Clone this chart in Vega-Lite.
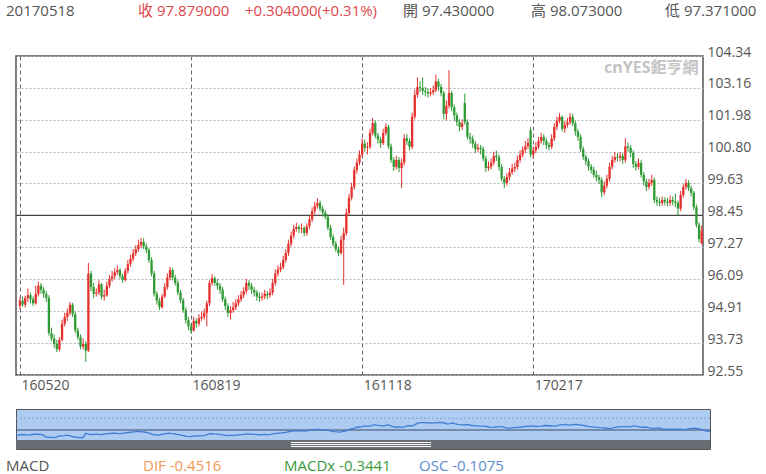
{
"$schema":"https://vega.github.io/schema/vega-lite/v6.json",
"background":"white",
"padding":{"left":5,"top":0,"right":0,"bottom":0},
"bounds":"flush",
"spacing":34,
"resolve":{"scale":{"color":"independent"}},
"config":{"font":"'Open Sans', 'Noto Sans CJK TC'","view":{"stroke":null}},
"datasets":{"k":[
{"i":0,"o":95.10,"h":95.42,"l":94.98,"c":95.30},
{"i":1,"o":95.30,"h":95.45,"l":95.07,"c":95.15},
{"i":2,"o":95.15,"h":95.48,"l":95.05,"c":95.40},
{"i":3,"o":95.40,"h":95.75,"l":95.25,"c":95.50},
{"i":4,"o":95.50,"h":95.60,"l":95.20,"c":95.35},
{"i":5,"o":95.35,"h":95.45,"l":95.10,"c":95.20},
{"i":6,"o":95.20,"h":95.85,"l":95.15,"c":95.55},
{"i":7,"o":95.55,"h":96.00,"l":95.45,"c":95.85},
{"i":8,"o":95.85,"h":95.95,"l":95.55,"c":95.70},
{"i":9,"o":95.70,"h":95.80,"l":95.40,"c":95.55},
{"i":10,"o":95.55,"h":95.65,"l":95.25,"c":95.40},
{"i":11,"o":95.40,"h":95.50,"l":94.00,"c":94.10},
{"i":12,"o":94.10,"h":94.30,"l":93.80,"c":93.90},
{"i":13,"o":93.90,"h":94.05,"l":93.55,"c":93.70},
{"i":14,"o":93.70,"h":93.85,"l":93.40,"c":93.50},
{"i":15,"o":93.50,"h":93.95,"l":93.42,"c":93.85},
{"i":16,"o":93.85,"h":94.60,"l":93.80,"c":94.45},
{"i":17,"o":94.45,"h":94.85,"l":94.35,"c":94.70},
{"i":18,"o":94.70,"h":95.00,"l":94.55,"c":94.85},
{"i":19,"o":94.85,"h":95.25,"l":94.75,"c":95.15},
{"i":20,"o":95.15,"h":95.22,"l":94.70,"c":94.80},
{"i":21,"o":94.80,"h":94.90,"l":94.10,"c":94.20},
{"i":22,"o":94.20,"h":94.30,"l":93.85,"c":93.95},
{"i":23,"o":93.95,"h":94.05,"l":93.50,"c":93.60},
{"i":24,"o":93.60,"h":93.90,"l":93.50,"c":93.70},
{"i":25,"o":93.70,"h":93.80,"l":93.03,"c":93.45},
{"i":26,"o":93.45,"h":96.69,"l":93.40,"c":96.30},
{"i":27,"o":96.30,"h":96.40,"l":95.65,"c":95.80},
{"i":28,"o":95.80,"h":95.95,"l":95.40,"c":95.55},
{"i":29,"o":95.55,"h":95.75,"l":95.45,"c":95.60},
{"i":30,"o":95.60,"h":96.05,"l":95.50,"c":95.90},
{"i":31,"o":95.90,"h":95.95,"l":95.35,"c":95.45},
{"i":32,"o":95.45,"h":95.70,"l":95.30,"c":95.50},
{"i":33,"o":95.50,"h":96.00,"l":95.45,"c":95.85},
{"i":34,"o":95.85,"h":96.25,"l":95.75,"c":96.10},
{"i":35,"o":96.10,"h":96.40,"l":96.00,"c":96.20},
{"i":36,"o":96.20,"h":96.50,"l":96.10,"c":96.35},
{"i":37,"o":96.35,"h":96.60,"l":96.25,"c":96.43},
{"i":38,"o":96.43,"h":96.50,"l":96.10,"c":96.20},
{"i":39,"o":96.20,"h":96.30,"l":95.95,"c":96.06},
{"i":40,"o":96.06,"h":96.50,"l":96.00,"c":96.40},
{"i":41,"o":96.40,"h":96.80,"l":96.30,"c":96.65},
{"i":42,"o":96.65,"h":97.00,"l":96.55,"c":96.85},
{"i":43,"o":96.85,"h":97.20,"l":96.75,"c":97.05},
{"i":44,"o":97.05,"h":97.35,"l":96.95,"c":97.20},
{"i":45,"o":97.20,"h":97.55,"l":97.10,"c":97.35},
{"i":46,"o":97.35,"h":97.62,"l":97.25,"c":97.47},
{"i":47,"o":97.47,"h":97.60,"l":97.20,"c":97.30},
{"i":48,"o":97.30,"h":97.40,"l":97.05,"c":97.17},
{"i":49,"o":97.17,"h":97.25,"l":96.70,"c":96.80},
{"i":50,"o":96.80,"h":96.90,"l":96.20,"c":96.30},
{"i":51,"o":96.30,"h":96.40,"l":95.45,"c":95.55},
{"i":52,"o":95.55,"h":95.65,"l":95.15,"c":95.30},
{"i":53,"o":95.30,"h":95.40,"l":94.95,"c":95.06},
{"i":54,"o":95.06,"h":95.55,"l":95.00,"c":95.45},
{"i":55,"o":95.45,"h":95.95,"l":95.40,"c":95.80},
{"i":56,"o":95.80,"h":96.30,"l":95.70,"c":96.15},
{"i":57,"o":96.15,"h":96.55,"l":96.05,"c":96.43},
{"i":58,"o":96.43,"h":96.50,"l":96.05,"c":96.15},
{"i":59,"o":96.15,"h":96.25,"l":95.85,"c":95.95},
{"i":60,"o":95.95,"h":96.05,"l":95.50,"c":95.60},
{"i":61,"o":95.60,"h":95.70,"l":95.20,"c":95.32},
{"i":62,"o":95.32,"h":95.40,"l":94.85,"c":94.95},
{"i":63,"o":94.95,"h":95.05,"l":94.45,"c":94.58},
{"i":64,"o":94.58,"h":94.70,"l":94.20,"c":94.35},
{"i":65,"o":94.35,"h":94.45,"l":94.08,"c":94.20},
{"i":66,"o":94.20,"h":94.70,"l":94.15,"c":94.55},
{"i":67,"o":94.55,"h":94.65,"l":94.30,"c":94.45},
{"i":68,"o":94.45,"h":94.80,"l":94.35,"c":94.65},
{"i":69,"o":94.65,"h":94.90,"l":94.55,"c":94.70},
{"i":70,"o":94.70,"h":95.00,"l":94.60,"c":94.85},
{"i":71,"o":94.85,"h":95.30,"l":94.35,"c":95.20},
{"i":72,"o":95.20,"h":96.05,"l":95.10,"c":95.95},
{"i":73,"o":95.95,"h":96.28,"l":95.85,"c":96.13},
{"i":74,"o":96.13,"h":96.20,"l":95.85,"c":95.95},
{"i":75,"o":95.95,"h":96.10,"l":95.70,"c":95.85},
{"i":76,"o":95.85,"h":95.95,"l":95.55,"c":95.70},
{"i":77,"o":95.70,"h":95.80,"l":95.25,"c":95.35},
{"i":78,"o":95.35,"h":95.45,"l":94.95,"c":95.10},
{"i":79,"o":95.10,"h":95.20,"l":94.70,"c":94.84},
{"i":80,"o":94.84,"h":95.10,"l":94.60,"c":94.95},
{"i":81,"o":94.95,"h":95.25,"l":94.85,"c":95.05},
{"i":82,"o":95.05,"h":95.35,"l":94.95,"c":95.20},
{"i":83,"o":95.20,"h":95.50,"l":95.10,"c":95.35},
{"i":84,"o":95.35,"h":95.65,"l":95.25,"c":95.50},
{"i":85,"o":95.50,"h":95.80,"l":95.40,"c":95.65},
{"i":86,"o":95.65,"h":96.10,"l":95.55,"c":95.95},
{"i":87,"o":95.95,"h":96.05,"l":95.70,"c":95.85},
{"i":88,"o":95.85,"h":95.95,"l":95.55,"c":95.70},
{"i":89,"o":95.70,"h":95.80,"l":95.45,"c":95.60},
{"i":90,"o":95.60,"h":95.70,"l":95.30,"c":95.45},
{"i":91,"o":95.45,"h":95.60,"l":95.25,"c":95.40},
{"i":92,"o":95.40,"h":95.60,"l":95.30,"c":95.45},
{"i":93,"o":95.45,"h":95.70,"l":95.35,"c":95.55},
{"i":94,"o":95.55,"h":95.65,"l":95.35,"c":95.50},
{"i":95,"o":95.50,"h":95.75,"l":95.40,"c":95.60},
{"i":96,"o":95.60,"h":96.10,"l":95.50,"c":95.95},
{"i":97,"o":95.95,"h":96.45,"l":95.85,"c":96.30},
{"i":98,"o":96.30,"h":96.60,"l":96.20,"c":96.45},
{"i":99,"o":96.45,"h":96.70,"l":96.35,"c":96.54},
{"i":100,"o":96.54,"h":96.95,"l":96.45,"c":96.80},
{"i":101,"o":96.80,"h":97.20,"l":96.70,"c":97.06},
{"i":102,"o":97.06,"h":97.55,"l":96.95,"c":97.40},
{"i":103,"o":97.40,"h":97.85,"l":97.30,"c":97.70},
{"i":104,"o":97.70,"h":98.10,"l":97.60,"c":97.95},
{"i":105,"o":97.95,"h":98.18,"l":97.85,"c":98.02},
{"i":106,"o":98.02,"h":98.10,"l":97.80,"c":97.95},
{"i":107,"o":97.95,"h":98.15,"l":97.80,"c":97.98},
{"i":108,"o":97.98,"h":98.05,"l":97.68,"c":97.80},
{"i":109,"o":97.80,"h":98.15,"l":97.70,"c":98.05},
{"i":110,"o":98.05,"h":98.45,"l":97.95,"c":98.30},
{"i":111,"o":98.30,"h":98.75,"l":98.20,"c":98.60},
{"i":112,"o":98.60,"h":98.95,"l":98.50,"c":98.80},
{"i":113,"o":98.80,"h":99.09,"l":98.70,"c":98.91},
{"i":114,"o":98.91,"h":99.00,"l":98.60,"c":98.70},
{"i":115,"o":98.70,"h":98.80,"l":98.40,"c":98.55},
{"i":116,"o":98.55,"h":98.65,"l":98.30,"c":98.40},
{"i":117,"o":98.40,"h":98.50,"l":97.90,"c":98.00},
{"i":118,"o":98.00,"h":98.10,"l":97.55,"c":97.65},
{"i":119,"o":97.65,"h":97.75,"l":97.30,"c":97.40},
{"i":120,"o":97.40,"h":97.50,"l":97.10,"c":97.20},
{"i":121,"o":97.20,"h":97.30,"l":96.95,"c":97.06},
{"i":122,"o":97.06,"h":97.70,"l":97.00,"c":97.55},
{"i":123,"o":97.55,"h":98.00,"l":95.88,"c":97.80},
{"i":124,"o":97.80,"h":98.70,"l":97.70,"c":98.54},
{"i":125,"o":98.54,"h":99.25,"l":98.45,"c":99.10},
{"i":126,"o":99.10,"h":99.65,"l":99.00,"c":99.50},
{"i":127,"o":99.50,"h":100.25,"l":99.40,"c":100.13},
{"i":128,"o":100.13,"h":100.55,"l":100.00,"c":100.40},
{"i":129,"o":100.40,"h":100.85,"l":100.30,"c":100.70},
{"i":130,"o":100.70,"h":101.30,"l":100.60,"c":101.10},
{"i":131,"o":101.10,"h":101.25,"l":100.80,"c":100.95},
{"i":132,"o":100.95,"h":101.15,"l":100.70,"c":100.98},
{"i":133,"o":100.98,"h":101.65,"l":100.90,"c":101.50},
{"i":134,"o":101.50,"h":102.05,"l":101.40,"c":101.86},
{"i":135,"o":101.86,"h":101.95,"l":101.30,"c":101.40},
{"i":136,"o":101.40,"h":101.50,"l":101.10,"c":101.25},
{"i":137,"o":101.25,"h":101.35,"l":100.95,"c":101.12},
{"i":138,"o":101.12,"h":101.65,"l":101.05,"c":101.50},
{"i":139,"o":101.50,"h":101.85,"l":101.40,"c":101.72},
{"i":140,"o":101.72,"h":101.80,"l":100.90,"c":101.00},
{"i":141,"o":101.00,"h":101.10,"l":100.40,"c":100.50},
{"i":142,"o":100.50,"h":100.60,"l":100.10,"c":100.24},
{"i":143,"o":100.24,"h":100.65,"l":100.15,"c":100.50},
{"i":144,"o":100.50,"h":100.60,"l":100.05,"c":100.20},
{"i":145,"o":100.20,"h":100.55,"l":99.46,"c":100.40},
{"i":146,"o":100.40,"h":101.45,"l":100.30,"c":101.30},
{"i":147,"o":101.30,"h":101.45,"l":101.05,"c":101.20},
{"i":148,"o":101.20,"h":101.30,"l":100.85,"c":100.98},
{"i":149,"o":100.98,"h":102.25,"l":100.90,"c":102.10},
{"i":150,"o":102.10,"h":103.10,"l":102.00,"c":102.90},
{"i":151,"o":102.90,"h":103.55,"l":102.80,"c":103.19},
{"i":152,"o":103.19,"h":103.40,"l":103.00,"c":103.16},
{"i":153,"o":103.16,"h":103.55,"l":102.90,"c":103.05},
{"i":154,"o":103.05,"h":103.20,"l":102.85,"c":103.01},
{"i":155,"o":103.01,"h":103.15,"l":102.80,"c":102.95},
{"i":156,"o":102.95,"h":103.15,"l":102.85,"c":103.00},
{"i":157,"o":103.00,"h":103.25,"l":102.90,"c":103.08},
{"i":158,"o":103.08,"h":103.65,"l":103.00,"c":103.40},
{"i":159,"o":103.40,"h":103.50,"l":103.05,"c":103.20},
{"i":160,"o":103.20,"h":103.30,"l":102.85,"c":102.97},
{"i":161,"o":102.97,"h":103.05,"l":102.00,"c":102.20},
{"i":162,"o":102.20,"h":102.70,"l":101.95,"c":102.50},
{"i":163,"o":102.50,"h":103.82,"l":102.40,"c":102.97},
{"i":164,"o":102.97,"h":103.05,"l":102.30,"c":102.45},
{"i":165,"o":102.45,"h":102.55,"l":101.95,"c":102.15},
{"i":166,"o":102.15,"h":102.25,"l":101.75,"c":101.90},
{"i":167,"o":101.90,"h":102.00,"l":101.55,"c":101.72},
{"i":168,"o":101.72,"h":102.00,"l":101.60,"c":101.85},
{"i":169,"o":102.60,"h":102.95,"l":101.80,"c":101.90},
{"i":170,"o":101.90,"h":102.00,"l":101.25,"c":101.35},
{"i":171,"o":101.35,"h":101.50,"l":101.10,"c":101.28},
{"i":172,"o":101.28,"h":101.40,"l":100.95,"c":101.10},
{"i":173,"o":101.10,"h":101.20,"l":100.75,"c":100.90},
{"i":174,"o":100.90,"h":101.10,"l":100.80,"c":100.95},
{"i":175,"o":100.95,"h":101.05,"l":100.70,"c":100.90},
{"i":176,"o":100.90,"h":101.00,"l":100.45,"c":100.55},
{"i":177,"o":100.55,"h":100.65,"l":100.05,"c":100.20},
{"i":178,"o":100.20,"h":100.45,"l":100.10,"c":100.25},
{"i":179,"o":100.25,"h":100.55,"l":100.15,"c":100.40},
{"i":180,"o":100.40,"h":100.80,"l":100.30,"c":100.65},
{"i":181,"o":100.65,"h":100.85,"l":100.45,"c":100.60},
{"i":182,"o":100.60,"h":100.70,"l":100.10,"c":100.24},
{"i":183,"o":100.24,"h":100.35,"l":99.70,"c":99.80},
{"i":184,"o":99.80,"h":99.90,"l":99.46,"c":99.65},
{"i":185,"o":99.65,"h":100.00,"l":99.55,"c":99.87},
{"i":186,"o":99.87,"h":100.20,"l":99.75,"c":100.05},
{"i":187,"o":100.05,"h":100.35,"l":99.95,"c":100.18},
{"i":188,"o":100.18,"h":100.40,"l":100.05,"c":100.24},
{"i":189,"o":100.24,"h":100.65,"l":100.15,"c":100.50},
{"i":190,"o":100.50,"h":100.85,"l":100.40,"c":100.70},
{"i":191,"o":100.70,"h":101.00,"l":100.60,"c":100.87},
{"i":192,"o":100.87,"h":101.20,"l":100.75,"c":101.00},
{"i":193,"o":101.00,"h":101.30,"l":100.90,"c":101.12},
{"i":194,"o":101.60,"h":101.72,"l":100.60,"c":100.70},
{"i":195,"o":100.70,"h":101.00,"l":100.55,"c":100.85},
{"i":196,"o":100.85,"h":101.15,"l":100.75,"c":100.98},
{"i":197,"o":100.98,"h":101.35,"l":100.90,"c":101.20},
{"i":198,"o":101.20,"h":101.50,"l":101.10,"c":101.35},
{"i":199,"o":101.35,"h":101.45,"l":101.05,"c":101.20},
{"i":200,"o":101.20,"h":101.30,"l":100.90,"c":101.05},
{"i":201,"o":101.05,"h":101.15,"l":100.85,"c":100.98},
{"i":202,"o":100.98,"h":101.45,"l":100.90,"c":101.30},
{"i":203,"o":101.30,"h":101.85,"l":101.20,"c":101.72},
{"i":204,"o":101.72,"h":102.10,"l":101.60,"c":101.95},
{"i":205,"o":101.95,"h":102.23,"l":101.85,"c":102.09},
{"i":206,"o":102.09,"h":102.15,"l":101.55,"c":101.65},
{"i":207,"o":101.65,"h":101.95,"l":101.50,"c":101.80},
{"i":208,"o":101.80,"h":102.05,"l":101.70,"c":101.90},
{"i":209,"o":101.90,"h":102.23,"l":101.80,"c":102.09},
{"i":210,"o":102.09,"h":102.20,"l":101.75,"c":101.85},
{"i":211,"o":101.85,"h":101.95,"l":101.40,"c":101.55},
{"i":212,"o":101.55,"h":101.65,"l":101.20,"c":101.35},
{"i":213,"o":101.35,"h":101.45,"l":100.80,"c":100.90},
{"i":214,"o":100.90,"h":101.00,"l":100.50,"c":100.61},
{"i":215,"o":100.61,"h":100.70,"l":100.30,"c":100.45},
{"i":216,"o":100.45,"h":100.55,"l":100.10,"c":100.25},
{"i":217,"o":100.25,"h":100.35,"l":100.00,"c":100.13},
{"i":218,"o":100.13,"h":100.25,"l":99.85,"c":99.95},
{"i":219,"o":99.95,"h":100.10,"l":99.70,"c":99.85},
{"i":220,"o":99.85,"h":99.95,"l":99.60,"c":99.76},
{"i":221,"o":99.76,"h":99.85,"l":99.13,"c":99.30},
{"i":222,"o":99.30,"h":99.70,"l":99.20,"c":99.55},
{"i":223,"o":99.55,"h":99.95,"l":99.45,"c":99.80},
{"i":224,"o":99.80,"h":100.40,"l":99.70,"c":100.25},
{"i":225,"o":100.25,"h":100.65,"l":100.15,"c":100.50},
{"i":226,"o":100.50,"h":100.80,"l":100.40,"c":100.61},
{"i":227,"o":100.61,"h":100.75,"l":100.45,"c":100.58},
{"i":228,"o":100.58,"h":100.80,"l":100.45,"c":100.65},
{"i":229,"o":100.65,"h":100.75,"l":100.35,"c":100.50},
{"i":230,"o":100.50,"h":101.30,"l":100.40,"c":101.00},
{"i":231,"o":101.00,"h":101.15,"l":100.80,"c":100.95},
{"i":232,"o":100.95,"h":101.05,"l":100.60,"c":100.76},
{"i":233,"o":100.76,"h":100.85,"l":100.20,"c":100.35},
{"i":234,"o":100.35,"h":100.45,"l":100.10,"c":100.24},
{"i":235,"o":100.24,"h":100.55,"l":100.15,"c":100.39},
{"i":236,"o":100.39,"h":100.50,"l":99.85,"c":99.95},
{"i":237,"o":99.95,"h":100.05,"l":99.55,"c":99.70},
{"i":238,"o":99.70,"h":99.80,"l":99.35,"c":99.50},
{"i":239,"o":99.50,"h":99.80,"l":99.40,"c":99.65},
{"i":240,"o":99.65,"h":99.95,"l":99.55,"c":99.76},
{"i":241,"o":99.76,"h":99.85,"l":98.90,"c":99.02},
{"i":242,"o":99.02,"h":99.15,"l":98.80,"c":98.95},
{"i":243,"o":98.95,"h":99.10,"l":98.78,"c":98.91},
{"i":244,"o":98.91,"h":99.15,"l":98.80,"c":99.02},
{"i":245,"o":99.02,"h":99.12,"l":98.82,"c":98.95},
{"i":246,"o":98.95,"h":99.10,"l":98.78,"c":98.91},
{"i":247,"o":98.91,"h":99.18,"l":98.80,"c":99.02},
{"i":248,"o":99.02,"h":99.15,"l":98.82,"c":98.95},
{"i":249,"o":98.95,"h":99.25,"l":98.75,"c":98.91},
{"i":250,"o":98.91,"h":99.00,"l":98.45,"c":98.70},
{"i":251,"o":98.70,"h":99.35,"l":98.60,"c":99.20},
{"i":252,"o":99.20,"h":99.60,"l":99.10,"c":99.50},
{"i":253,"o":99.50,"h":99.80,"l":99.40,"c":99.65},
{"i":254,"o":99.65,"h":99.75,"l":99.35,"c":99.45},
{"i":255,"o":99.45,"h":99.55,"l":99.15,"c":99.28},
{"i":256,"o":99.28,"h":99.35,"l":98.65,"c":98.75},
{"i":257,"o":98.75,"h":98.85,"l":98.00,"c":98.10},
{"i":258,"o":98.10,"h":98.20,"l":97.45,"c":97.575},
{"i":259,"o":97.43,"h":98.073,"l":97.371,"c":97.879}
]},
"vconcat":[
{
"width":751,"height":22,
"data":{"values":[
{"k":0,"t":"20170518","g":"n"},
{"k":1,"t":"收 97.879000","g":"r"},
{"k":2,"t":"+0.304000(+0.31%)","g":"r"},
{"k":3,"t":"開 97.430000","g":"n"},
{"k":4,"t":"高 98.073000","g":"n"},
{"k":5,"t":"低 97.371000","g":"n"}
]},
"mark":{"type":"text","align":"left","fontSize":15},
"encoding":{
"x":{"field":"k","type":"quantitative","scale":{"domain":[0,1,2,3,4,5],"range":[-10,122,229,387,515,649]},"axis":null},
"text":{"field":"t"},
"color":{"field":"g","type":"nominal","scale":{"domain":["n","r"],"range":["#555555","#e0474c"]},"legend":null}
}
},
{
"width":687,"height":319,
"view":{"stroke":"#555555","strokeWidth":1.5},
"data":{"name":"k"},
"layer":[
{
"data":{"values":[{}]},
"mark":{"type":"rule","color":"#444444","strokeWidth":1.2},
"encoding":{"y":{"datum":98.45}}
},
{
"mark":{"type":"rule","strokeWidth":1},
"encoding":{
"x":{"field":"i","type":"quantitative","scale":{"domain":[-1.5,259.5],"nice":false,"zero":false,"padding":0},
"axis":{"orient":"bottom","values":[0,65,130,195],"tickCount":20,"labelExpr":"datum.value==0?'160520':datum.value==65?'160819':datum.value==130?'161118':'170217'","grid":true,"gridColor":"#666666","gridDash":[4,3],"gridWidth":1,"domain":false,"ticks":false,"labelAlign":"left","labelBaseline":"top","labelPadding":3,"labelOffset":1,"labelColor":"#555555","labelFontSize":14,"title":null}},
"y":{"field":"l","type":"quantitative","scale":{"domain":[92.55,104.34],"nice":false,"zero":false,"padding":0},
"axis":{"orient":"right","values":[92.55,93.73,94.91,96.09,97.27,98.45,99.63,100.80,101.98,103.16,104.34],"tickCount":20,"labelOverlap":false,"format":".2f","grid":true,"gridColor":"#b5b5b5","gridDash":[2,2],"domain":false,"ticks":false,"labelPadding":4,"labelOffset":-4,"labelColor":"#555555","labelFontSize":14,"title":null}},
"y2":{"field":"h"},
"color":{"condition":{"test":"datum.c >= datum.o","value":"#e5302d"},"value":"#2e9a34"}
}
},
{
"mark":{"type":"bar","size":2.3},
"encoding":{
"x":{"field":"i","type":"quantitative"},
"y":{"field":"o","type":"quantitative"},
"y2":{"field":"c"},
"color":{"condition":{"test":"datum.c >= datum.o","value":"#e5302d"},"value":"#2e9a34"}
}
},
{
"data":{"values":[{}]},
"mark":{"type":"text","align":"right","baseline":"middle","color":"#c4c4c4","fontSize":16,"fontWeight":"bold"},
"encoding":{"x":{"datum":257.8},"y":{"datum":103.9},"text":{"value":"cnYES鉅亨網"}}
}
]
},
{
"width":694,"height":40,
"view":{"stroke":"#555555","strokeWidth":1,"fill":"#aecbf2"},
"resolve":{"scale":{"x":"independent"}},
"layer":[
{
"data":{"values":[{}]},
"mark":{"type":"rule","color":"#7fa3d8","strokeDash":[2,2]},
"encoding":{"y":{"datum":106,"type":"quantitative","scale":{"domain":[86.2,112],"nice":false,"zero":false,"padding":0},"axis":null}}
},
{
"data":{"values":[{}]},
"mark":{"type":"rule","color":"#3a4a66","strokeWidth":1},
"encoding":{"y":{"datum":98.45}}
},
{
"layer":[
{
"data":{"values":[{}]},
"mark":{"type":"rect","color":"#6a6d74"},
"encoding":{"x":{"datum":0,"type":"quantitative","scale":{"domain":[0,259],"nice":false,"zero":false,"padding":0},"axis":null},"x2":{"datum":259},"y":{"datum":86.2},"y2":{"datum":92}}
},
{
"data":{"name":"k"},
"mark":{"type":"line","color":"#3f7dd6","strokeWidth":1.3},
"encoding":{"x":{"field":"i","type":"quantitative"},"y":{"field":"c","type":"quantitative"}}
},
{
"data":{"values":[{}]},
"mark":{"type":"rule","color":"#ffffff","strokeWidth":1},
"encoding":{"x":{"datum":102.6},"x2":{"datum":154.9},"y":{"datum":90.4}}
},
{
"data":{"values":[{}]},
"mark":{"type":"rule","color":"#ffffff","strokeWidth":1},
"encoding":{"x":{"datum":102.6},"x2":{"datum":154.9},"y":{"datum":89.1}}
},
{
"data":{"values":[{}]},
"mark":{"type":"rule","color":"#ffffff","strokeWidth":1},
"encoding":{"x":{"datum":102.6},"x2":{"datum":154.9},"y":{"datum":87.8}}
}
]
},
{
"data":{"values":[
{"k":0,"t":"MACD","g":"a"},
{"k":1,"t":"DIF -0.4516","g":"b"},
{"k":2,"t":"MACDx -0.3441","g":"c"},
{"k":3,"t":"OSC -0.1075","g":"d"}
]},
"mark":{"type":"text","align":"left","baseline":"middle","fontSize":15},
"encoding":{
"x":{"field":"k","type":"quantitative","scale":{"domain":[0,1,2,3],"range":[-10,127,268,403]},"axis":null},
"y":{"datum":75.2},
"text":{"field":"t"},
"color":{"field":"g","type":"nominal","scale":{"domain":["a","b","c","d"],"range":["#555555","#f19a55","#3a9a3a","#5b8ccf"]},"legend":null}
}
}
]
}
]
}
